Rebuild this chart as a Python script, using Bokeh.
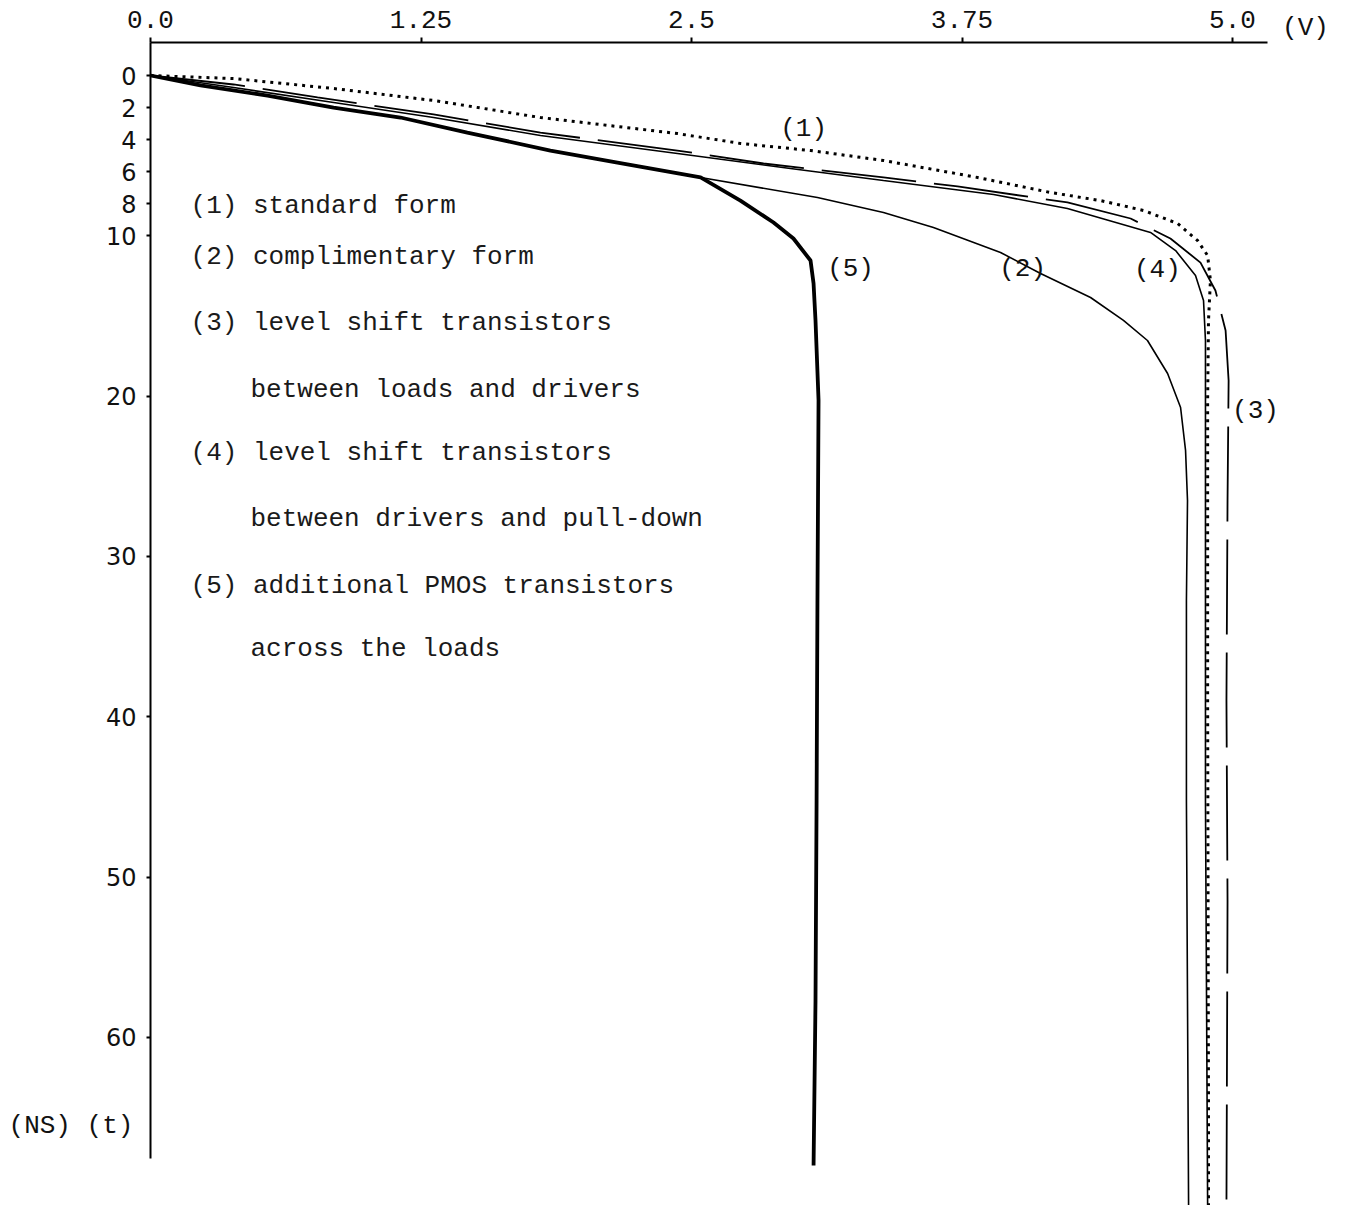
from bokeh.plotting import figure
from bokeh.models import Range1d, FixedTicker, Label, LinearAxis
from bokeh.embed import file_html
from bokeh.resources import INLINE
from bokeh.core.properties import value

# ---- data (voltage V, time t in ns) ----
c1_v = [0.0, 0.384, 0.846, 1.308, 1.802, 2.435, 2.726, 3.050, 3.387, 3.822, 4.159, 4.390, 4.589, 4.746, 4.838, 4.885, 4.898, 4.889, 4.885, 4.885, 4.885, 4.887, 4.889, 4.889]
c1_t = [0.0, 0.19, 0.81, 1.56, 2.62, 3.62, 4.24, 4.68, 5.30, 6.36, 7.30, 7.80, 8.42, 9.23, 10.29, 11.23, 12.79, 15.28, 20.27, 26.51, 38.99, 51.47, 63.94, 70.49]

c2_v = [0.0, 0.231, 0.541, 0.846, 1.155, 1.464, 1.848, 2.158, 2.542, 3.082, 3.387, 3.618, 3.928, 4.113, 4.344, 4.496, 4.607, 4.700, 4.760, 4.783, 4.792, 4.787, 4.787, 4.792, 4.797]
c2_t = [0.0, 0.62, 1.25, 2.00, 2.62, 3.56, 4.68, 5.43, 6.36, 7.61, 8.55, 9.48, 11.04, 12.35, 13.85, 15.28, 16.53, 18.59, 20.71, 23.39, 26.51, 32.75, 45.23, 57.71, 70.49]

c3_v = [0.0, 0.384, 0.772, 1.308, 1.802, 2.435, 2.833, 3.387, 3.729, 4.237, 4.529, 4.713, 4.852, 4.921, 4.968, 4.982, 4.977, 4.972, 4.977, 4.972]
c3_t = [0.0, 0.56, 1.37, 2.43, 3.56, 4.68, 5.49, 6.36, 6.92, 7.92, 8.92, 10.17, 11.67, 13.41, 15.91, 19.03, 26.51, 38.99, 51.47, 70.49]

c4_v = [0.0, 0.384, 0.846, 1.308, 1.802, 2.435, 2.957, 3.387, 3.896, 4.237, 4.621, 4.737, 4.829, 4.866, 4.875, 4.875, 4.875, 4.880, 4.885]
c4_t = [0.0, 0.75, 1.68, 2.62, 3.74, 4.87, 5.80, 6.55, 7.42, 8.30, 9.79, 10.92, 12.48, 14.04, 16.53, 26.51, 45.23, 57.71, 70.49]

c5_v = [0.0, 0.231, 0.541, 0.846, 1.155, 1.464, 1.848, 2.158, 2.542, 2.726, 2.879, 2.971, 3.050, 3.064, 3.073, 3.087, 3.082, 3.078, 3.073, 3.064]
c5_t = [0.0, 0.62, 1.25, 2.00, 2.62, 3.56, 4.68, 5.43, 6.36, 7.80, 9.17, 10.17, 11.54, 12.98, 15.28, 20.27, 32.75, 45.23, 57.71, 68.00]

x_ticks = [0.0, 1.25, 2.5, 3.75, 5.0]
x_tick_labels = ["0.0", "1.25", "2.5", "3.75", "5.0"]
y_ticks = [0, 2, 4, 6, 8, 10, 20, 30, 40, 50, 60]
y_tick_labels = ["0", "2", "4", "6", "8", "10", "20", "30", "40", "50", "60"]

legend_lines = [
    "(1) standard form",
    "(2) complimentary form",
    "(3) level shift transistors",
    "between loads and drivers",
    "(4) level shift transistors",
    "between drivers and pull-down",
    "(5) additional PMOS transistors",
    "across the loads",
]
legend_is_continuation = [False, False, False, True, False, True, False, True]

curve_labels = ["(1)", "(5)", "(2)", "(4)", "(3)"]
curve_label_v = [3.018, 3.235, 4.030, 4.653, 5.106]
curve_label_t = [3.31, 12.04, 12.04, 12.16, 20.90]

MONO = "Liberation Mono"
INK = "#111111"

p = figure(width=1340, height=1205, output_backend="svg", toolbar_location=None,
           x_axis_type=None, y_axis_type=None,
           x_range=Range1d(-0.6932, 5.499), y_range=Range1d(70.49, -4.679),
           min_border=0, min_border_left=0, min_border_right=0,
           min_border_top=0, min_border_bottom=0,
           background_fill_color="white", border_fill_color="white")
p.outline_line_color = None

xa = LinearAxis(fixed_location=-2.06)
xa.ticker = FixedTicker(ticks=x_ticks)
xa.major_label_overrides = {t: s for t, s in zip(x_ticks, x_tick_labels)}
xa.bounds = (0, 5.16)
xa.axis_line_width = 2
xa.axis_line_color = "black"
xa.major_tick_line_width = 2
xa.major_tick_out = 5
xa.major_tick_in = 0
xa.minor_tick_line_color = None
xa.major_label_standoff = 9
xa.major_label_text_font = MONO
xa.major_label_text_font_size = "26px"
xa.major_label_text_color = INK
p.add_layout(xa, "above")

ya = LinearAxis(fixed_location=0)
ya.ticker = FixedTicker(ticks=y_ticks)
ya.major_label_overrides = {t: s for t, s in zip(y_ticks, y_tick_labels)}
ya.bounds = (-2.06, 67.56)
ya.axis_line_width = 2
ya.axis_line_color = "black"
ya.major_tick_line_width = 2
ya.major_tick_out = 4
ya.major_tick_in = 0
ya.minor_tick_line_color = None
ya.major_label_standoff = 10
ya.major_label_text_font = "DejaVu Sans"
ya.major_label_text_font_size = "24px"
ya.major_label_text_color = INK
p.add_layout(ya, "left")

# curves
p.line(c2_v, c2_t, line_color="black", line_width=1.6)
p.line(c4_v, c4_t, line_color="black", line_width=1.6)
p.line(c3_v, c3_t, line_color="black", line_width=1.8, line_dash="95 18")
p.line(c1_v, c1_t, line_color="black", line_width=3, line_dash="3 5")
p.line(c5_v, c5_t, line_color="black", line_width=3.8)

# legend text block (continuation lines are indented)
legend_row_t = [8.11, 11.35, 15.41, 19.59, 23.52, 27.64, 31.82, 35.75]
legend_x = [0.462 if c else 0.185 for c in legend_is_continuation]
p.text(x=legend_x, y=legend_row_t, text=legend_lines, text_font=value(MONO),
       text_font_size="26px", text_baseline="middle", text_align="left", text_color="#1a1a1a")

# curve labels
p.text(x=curve_label_v, y=curve_label_t, text=curve_labels, text_font=value(MONO),
       text_font_size="26px", text_baseline="middle", text_align="center", text_color=INK)

# unit labels
p.add_layout(Label(x=5.337, y=-2.99, text="(V)", text_font=MONO, text_font_size="26px",
                   text_baseline="middle", text_align="center", text_color=INK))
p.add_layout(Label(x=-0.656, y=65.5, text="(NS) (t)", text_font=MONO, text_font_size="26px",
                   text_baseline="middle", text_align="left", text_color=INK))

open("out.html", "w").write(file_html(p, INLINE))
